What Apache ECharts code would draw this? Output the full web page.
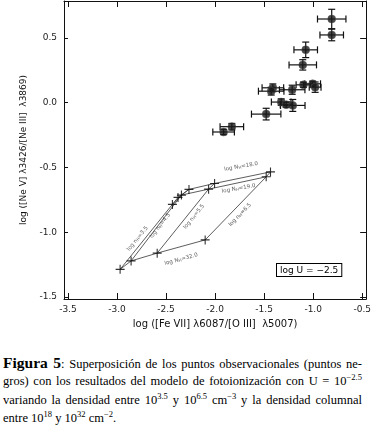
<!DOCTYPE html>
<html>
<head>
<meta charset="utf-8">
<script src="https://cdn.jsdelivr.net/npm/echarts@6/dist/echarts.min.js"></script>
<style>
  body { margin: 0; background: #fff; }
  #grafico { width: 374px; height: 335px; }
  .cap {
    position: absolute; left: 3px; top: 353px; width: 359px;
    font-family: "Liberation Serif", serif; font-size: 12.5px; color: #000;
  }
  .cap div { white-space: nowrap; text-align: justify; text-align-last: justify; height: 19px; line-height: 19px; }
  .cap div.ult { text-align-last: left; }
  .cap b { font-size: 15.5px; }
  .cap sup { font-size: 8.5px; line-height: 0; }
</style>
</head>
<body>
<div id="grafico"></div>
<div class="cap">
  <div><b>Figura 5</b>: Superposición de los puntos observacionales (puntos ne-</div>
  <div>gros) con los resultados del modelo de fotoionización con U = 10<sup>−2.5</sup></div>
  <div style="height:18px">variando la densidad entre 10<sup>3.5</sup> y 10<sup>6.5</sup> cm<sup>−3</sup> y la densidad columnal</div>
  <div class="ult">entre 10<sup>18</sup> y 10<sup>32</sup> cm<sup>−2</sup>.</div>
</div>
<script>
// puntos observacionales
var obsX  = [-0.811, -0.811, -1.076, -1.106, -1.411, -1.428, -1.214, -1.099, -1.005, -0.980, -1.326, -1.275, -1.208, -1.479, -1.829, -1.913];
var obsY  = [0.646, 0.523, 0.408, 0.292, 0.115, 0.089, 0.100, 0.138, 0.146, 0.120, 0.005, -0.015, -0.021, -0.088, -0.185, -0.226];
var errX  = [0.145, 0.12, 0.12, 0.14, 0.11, 0.13, 0.13, 0.075, 0.08, 0.06, 0.10, 0.06, 0.125, 0.15, 0.12, 0.11];
var errY  = [0.075, 0.045, 0.06, 0.04, 0.03, 0.03, 0.035, 0.02, 0.02, 0.04, 0.025, 0.02, 0.046, 0.045, 0.025, 0.02];

// modelo: densidades log nH = 3.5, 4.5, 5.5, 6.5 para cada log N_H
var densidades = ['3.5', '4.5', '5.5', '6.5'];
var columnas = ['18.0', '19.0', '32.0'];
var x18 = [-2.378, -2.266, -2.005, -1.435], y18 = [-0.731, -0.669, -0.623, -0.534];
var x19 = [-2.435, -2.343, -2.066, -1.479], y19 = [-0.785, -0.713, -0.667, -0.572];
var x32 = [-2.968, -2.856, -2.590, -2.101], y32 = [-1.286, -1.221, -1.161, -1.059];

var ticksX = [-3.5, -3.0, -2.5, -2.0, -1.5, -1.0, -0.5];
var ticksY = [-1.5, -1.0, -0.5, 0.0, 0.5];

// etiquetas de las curvas del modelo [x, y, texto, angulo]
var etiquetas = [
    [-1.735, -0.492, 'log N{s|H}=' + columnas[0], 10],
    [-1.760, -0.662, 'log N{s|H}=' + columnas[1], 10],
    [-2.345, -1.208, 'log N{s|H}=' + columnas[2], 15],
    [-2.790, -1.050, 'log n{s|H}=' + densidades[0], 51],
    [-2.560, -0.950, 'log n{s|H}=' + densidades[1], 52],
    [-2.215, -0.880, 'log n{s|H}=' + densidades[2], 51],
    [-1.745, -0.865, 'log n{s|H}=' + densidades[3], 46]
];

function zip(xs, ys) {
    return xs.map(function (v, i) { return [v, ys[i]]; });
}

var obsData = obsX.map(function (v, i) { return [v, obsY[i], errX[i], errY[i]]; });

var lineStyleModelo = { color: '#333', width: 0.8 };
var modelSeries = [];
[[x18, y18], [x19, y19], [x32, y32]].forEach(function (c) {
    modelSeries.push({ type: 'line', data: zip(c[0], c[1]), showSymbol: false, lineStyle: lineStyleModelo, silent: true, z: 2 });
});
densidades.forEach(function (d, i) {
    modelSeries.push({
        type: 'line',
        data: [[x32[i], y32[i]], [x19[i], y19[i]], [x18[i], y18[i]]],
        showSymbol: false, lineStyle: lineStyleModelo, silent: true, z: 2
    });
});

function renderErr(params, api) {
    var x = api.value(0), y = api.value(1), ex = api.value(2), ey = api.value(3);
    var l = api.coord([x - ex, y]), r = api.coord([x + ex, y]);
    var t = api.coord([x, y + ey]), b = api.coord([x, y - ey]);
    var c = 3.5;
    var st = { stroke: '#111', lineWidth: 1.2 };
    return {
        type: 'group',
        children: [
            { type: 'line', shape: { x1: l[0], y1: l[1], x2: r[0], y2: r[1] }, style: st },
            { type: 'line', shape: { x1: l[0], y1: l[1] - c, x2: l[0], y2: l[1] + c }, style: st },
            { type: 'line', shape: { x1: r[0], y1: r[1] - c, x2: r[0], y2: r[1] + c }, style: st },
            { type: 'line', shape: { x1: t[0], y1: t[1], x2: b[0], y2: b[1] }, style: st },
            { type: 'line', shape: { x1: t[0] - c, y1: t[1], x2: t[0] + c, y2: t[1] }, style: st },
            { type: 'line', shape: { x1: b[0] - c, y1: b[1], x2: b[0] + c, y2: b[1] }, style: st }
        ]
    };
}

var fuenteEje = { fontFamily: 'DejaVu Sans', fontSize: 9, color: '#222' };
var ejeComun = {
    axisLine: { show: true, onZero: false, lineStyle: { color: '#111', width: 1 } },
    splitLine: { show: false }
};

var dom = document.getElementById('grafico');
var chart = echarts.init(dom, null, { renderer: 'canvas' });

var option = {
    animation: false,
    grid: { left: 64, right: 7, top: 1, bottom: 36 },
    xAxis: [
        Object.assign({
            type: 'value', min: -3.54, max: -0.46, position: 'bottom',
            name: 'log ([Fe VII] λ6087/[O III]  λ5007)', nameLocation: 'middle', nameGap: 20,
            nameTextStyle: { fontFamily: 'DejaVu Sans', fontSize: 10, color: '#111' },
            axisTick: { inside: true, length: 6, customValues: ticksX, lineStyle: { color: '#111' } },
            axisLabel: Object.assign({ margin: 6, customValues: ticksX, formatter: function (v) { return v.toFixed(1); } }, fuenteEje)
        }, ejeComun),
        Object.assign({
            type: 'value', min: -3.54, max: -0.46, position: 'top',
            axisTick: { inside: true, length: 6, customValues: ticksX, lineStyle: { color: '#111' } },
            axisLabel: { show: false }
        }, ejeComun)
    ],
    yAxis: [
        Object.assign({
            type: 'value', min: -1.515, max: 0.785, position: 'left',
            name: 'log ([Ne V] λ3426/[Ne III]  λ3869)', nameLocation: 'middle', nameGap: 33,
            nameTextStyle: { fontFamily: 'DejaVu Sans', fontSize: 9, color: '#111' },
            axisTick: { inside: true, length: 4, customValues: ticksY, lineStyle: { color: '#111' } },
            axisLabel: Object.assign({ margin: 7, customValues: ticksY, formatter: function (v) { return v.toFixed(1); } }, fuenteEje)
        }, ejeComun),
        Object.assign({
            type: 'value', min: -1.515, max: 0.785, position: 'right',
            axisTick: { inside: true, length: 6, customValues: ticksY, lineStyle: { color: '#111' } },
            axisLabel: { show: false }
        }, ejeComun)
    ],
    graphic: [{
        type: 'text', left: 276, top: 263,
        style: {
            text: 'log U = −2.5', font: '9px "DejaVu Sans"', fill: '#000',
            backgroundColor: '#fff', borderColor: '#000', borderWidth: 1, padding: [2, 3, 1, 3]
        }
    }],
    series: modelSeries.concat([
        {
            type: 'scatter',
            data: zip(x18, y18).concat(zip(x19, y19), zip(x32, y32)),
            symbol: 'path://M0,5L10,5M5,0L5,10',
            symbolSize: 9,
            itemStyle: { color: '#000', borderColor: '#000', borderWidth: 1.1 },
            silent: true, z: 3
        },
        {
            type: 'scatter',
            data: etiquetas,
            symbolSize: 0,
            silent: true, z: 4,
            label: {
                show: true, position: 'inside',
                formatter: function (p) { return p.data[2]; },
                rotate: 0,
                fontFamily: 'DejaVu Sans', fontSize: 5.5, color: '#333',
                rich: { s: { fontFamily: 'DejaVu Sans', fontSize: 4, color: '#333', verticalAlign: 'bottom' } }
            },
            labelLayout: function (p) {
                return { rotate: etiquetas[p.dataIndex][3] };
            }
        },
        {
            type: 'custom',
            data: obsData,
            renderItem: renderErr,
            encode: { x: 0, y: 1 },
            silent: true, z: 5
        },
        {
            type: 'scatter',
            data: obsData,
            symbolSize: 8,
            itemStyle: { color: '#1a1a1a', borderColor: '#555', borderWidth: 0.6 },
            silent: true, z: 6
        }
    ])
};

chart.setOption(option);
</script>
</body>
</html>
